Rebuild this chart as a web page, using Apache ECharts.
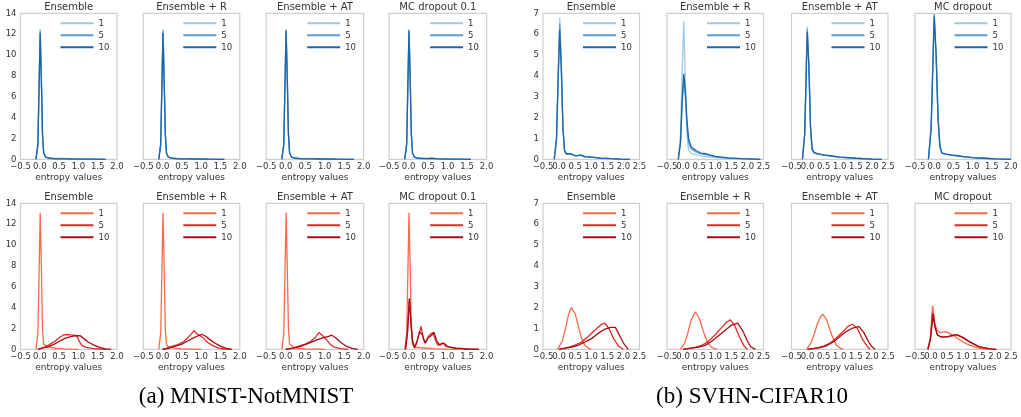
<!DOCTYPE html>
<html><head><meta charset="utf-8">
<script src="https://cdn.jsdelivr.net/npm/echarts@6/dist/echarts.min.js"></script>
<style>html,body{margin:0;padding:0;background:#fff}#c{width:1021px;height:417px}</style>
</head><body><div id="c"></div>
<script>
// ---------- labels ----------
const leftTitles = ['Ensemble', 'Ensemble + R', 'Ensemble + AT', 'MC dropout 0.1'];
const rightTitles = ['Ensemble', 'Ensemble + R', 'Ensemble + AT', 'MC dropout'];
const legendNames = ['1', '5', '10'];
const captions = ['(a) MNIST-NotMNIST', '(b) SVHN-CIFAR10'];
const xAxisName = 'entropy values';

// ---------- (a) MNIST in-distribution (blue) ----------
const mIn_E_1 = [[-0.1,0],[-0.05,1.5],[-0.02,7],[0.01,12.5],[0.04,8],[0.07,2.5],[0.1,0.6],[0.15,0.25],[0.25,0.12],[0.4,0.08],[0.6,0.1],[0.8,0.05],[1.1,0.03],[1.4,0.01],[1.75,0]];
const mIn_E_5 = [[-0.1,0],[-0.05,1.4],[-0.02,6.8],[0.01,12.3],[0.04,7.8],[0.07,2.4],[0.1,0.6],[0.15,0.22],[0.25,0.1],[0.4,0.06],[0.6,0.07],[0.8,0.04],[1.1,0.02],[1.4,0.01],[1.7,0]];
const mIn_E_10 = [[-0.1,0],[-0.05,1.4],[-0.02,6.6],[0.01,12.1],[0.04,7.6],[0.07,2.4],[0.1,0.6],[0.15,0.2],[0.25,0.1],[0.4,0.05],[0.6,0.05],[0.8,0.03],[1.1,0.02],[1.4,0.01],[1.7,0]];
const mIn_R_1 = [[-0.1,0],[-0.05,1.5],[-0.02,7],[0.01,12.45],[0.04,8],[0.07,2.5],[0.1,0.6],[0.15,0.22],[0.25,0.1],[0.4,0.07],[0.6,0.06],[0.9,0.04],[1.2,0.02],[1.6,0]];
const mIn_R_5 = [[-0.1,0],[-0.05,1.4],[-0.02,6.8],[0.01,12.35],[0.04,7.8],[0.07,2.4],[0.1,0.6],[0.15,0.2],[0.25,0.1],[0.4,0.06],[0.6,0.05],[0.9,0.03],[1.2,0.02],[1.6,0]];
const mIn_R_10 = [[-0.1,0],[-0.05,1.4],[-0.02,6.6],[0.01,12.1],[0.04,7.6],[0.07,2.4],[0.1,0.6],[0.15,0.2],[0.25,0.1],[0.4,0.05],[0.6,0.04],[0.9,0.03],[1.2,0.01],[1.6,0]];
const mIn_A_1 = [[-0.1,0],[-0.05,1.5],[-0.02,7],[0.01,12.5],[0.04,8],[0.07,2.5],[0.1,0.6],[0.15,0.22],[0.25,0.1],[0.4,0.07],[0.6,0.08],[0.9,0.04],[1.3,0.02],[1.75,0]];
const mIn_A_5 = [[-0.1,0],[-0.05,1.4],[-0.02,6.9],[0.01,12.4],[0.04,7.9],[0.07,2.4],[0.1,0.6],[0.15,0.2],[0.25,0.1],[0.4,0.06],[0.6,0.06],[0.9,0.03],[1.3,0.02],[1.75,0]];
const mIn_A_10 = [[-0.1,0],[-0.05,1.4],[-0.02,6.8],[0.01,12.3],[0.04,7.8],[0.07,2.4],[0.1,0.6],[0.15,0.2],[0.25,0.1],[0.4,0.05],[0.6,0.05],[0.9,0.03],[1.3,0.01],[1.75,0]];
const mIn_M_1 = [[-0.1,0],[-0.05,1.5],[-0.02,7],[0.01,12.5],[0.04,8],[0.07,2.5],[0.1,0.6],[0.15,0.22],[0.25,0.1],[0.45,0.08],[0.6,0.12],[0.75,0.06],[1.0,0.03],[1.3,0.02],[1.6,0]];
const mIn_M_5 = [[-0.1,0],[-0.05,1.4],[-0.02,6.9],[0.01,12.4],[0.04,7.9],[0.07,2.4],[0.1,0.6],[0.15,0.2],[0.25,0.1],[0.45,0.07],[0.6,0.1],[0.75,0.05],[1.0,0.03],[1.3,0.01],[1.6,0]];
const mIn_M_10 = [[-0.1,0],[-0.05,1.4],[-0.02,6.8],[0.01,12.3],[0.04,7.8],[0.07,2.4],[0.1,0.6],[0.15,0.2],[0.25,0.1],[0.45,0.06],[0.6,0.08],[0.75,0.05],[1.0,0.02],[1.3,0.01],[1.6,0]];

// ---------- (a) NotMNIST out-of-distribution (red) ----------
const mOut_E_1 = [[-0.1,0],[-0.05,1.5],[-0.02,7],[0.01,13.1],[0.04,8],[0.07,2],[0.1,0.5],[0.13,0.35],[0.18,0.3],[0.25,0.2],[0.4,0.1],[0.6,0.05],[0.8,0.02],[1.0,0]];
const mOut_E_5 = [[-0.05,0],[0.05,0.1],[0.15,0.25],[0.25,0.45],[0.4,0.8],[0.5,1.1],[0.6,1.35],[0.7,1.42],[0.8,1.38],[0.9,1.35],[0.97,1.2],[1.03,0.7],[1.1,0.35],[1.2,0.18],[1.35,0.08],[1.55,0.03],[1.75,0]];
const mOut_E_10 = [[-0.05,0],[0.05,0.12],[0.2,0.2],[0.35,0.45],[0.5,0.75],[0.65,1.05],[0.8,1.22],[0.9,1.3],[1.05,1.3],[1.15,1.0],[1.25,0.7],[1.4,0.4],[1.55,0.18],[1.7,0.05],[1.85,0]];
const mOut_R_1 = [[-0.1,0],[-0.05,1.5],[-0.02,7],[0.01,13.1],[0.04,8],[0.07,2],[0.1,0.5],[0.13,0.3],[0.2,0.2],[0.3,0.12],[0.5,0.05],[0.8,0.02],[1.0,0]];
const mOut_R_5 = [[0.0,0],[0.1,0.1],[0.25,0.3],[0.4,0.45],[0.55,0.75],[0.65,1.1],[0.75,1.5],[0.82,1.8],[0.88,1.5],[0.95,1.35],[1.05,1.1],[1.15,0.7],[1.3,0.35],[1.45,0.12],[1.6,0.03],[1.75,0]];
const mOut_R_10 = [[0.0,0],[0.15,0.1],[0.3,0.25],[0.5,0.5],[0.65,0.8],[0.8,1.1],[0.92,1.3],[1.02,1.42],[1.1,1.3],[1.2,1.0],[1.35,0.6],[1.5,0.3],[1.65,0.08],[1.8,0]];
const mOut_A_1 = [[-0.1,0],[-0.05,1.5],[-0.02,7],[0.01,13.1],[0.04,8],[0.07,2],[0.1,0.5],[0.13,0.35],[0.2,0.2],[0.3,0.1],[0.5,0.05],[0.8,0.02],[1.0,0]];
const mOut_A_5 = [[0.0,0],[0.15,0.1],[0.3,0.25],[0.5,0.5],[0.65,0.8],[0.75,1.1],[0.85,1.6],[0.95,1.3],[1.05,0.9],[1.15,0.45],[1.25,0.2],[1.4,0.07],[1.6,0]];
const mOut_A_10 = [[0.0,0],[0.2,0.12],[0.4,0.3],[0.6,0.6],[0.8,0.9],[0.95,1.1],[1.1,1.25],[1.18,1.35],[1.28,1.1],[1.4,0.7],[1.55,0.3],[1.7,0.08],[1.85,0]];
const mOut_M_1 = [[-0.1,0],[-0.05,1.5],[-0.02,7],[0.01,13.1],[0.04,8],[0.07,2],[0.1,0.5],[0.15,0.2],[0.3,0.15],[0.5,0.1],[0.7,0.05],[1.0,0.02],[1.3,0]];
const mOut_M_5 = [[-0.08,0],[-0.03,1.5],[0.02,4.8],[0.07,2.0],[0.1,0.8],[0.15,0.1],[0.2,0.5],[0.27,1.5],[0.32,2.2],[0.38,1.0],[0.43,0.6],[0.5,1.2],[0.55,1.4],[0.62,1.6],[0.68,1.0],[0.75,0.4],[0.8,0.5],[0.9,0.6],[0.95,0.3],[1.05,0.2],[1.2,0.1],[1.5,0.03],[1.8,0]];
const mOut_M_10 = [[-0.08,0],[-0.03,1.6],[0.02,4.9],[0.07,2.2],[0.1,0.8],[0.15,0.2],[0.22,0.8],[0.28,1.7],[0.35,1.4],[0.42,0.6],[0.5,1.1],[0.58,1.3],[0.65,1.65],[0.72,0.8],[0.8,0.4],[0.87,0.6],[0.93,0.5],[1.0,0.25],[1.2,0.12],[1.5,0.03],[1.8,0]];

// ---------- (b) SVHN in-distribution (blue) ----------
const sIn_E_1 = [[-0.15,0],[-0.08,1.0],[-0.03,4.0],[0.02,6.8],[0.07,4.5],[0.12,1.5],[0.17,0.4],[0.22,0.25],[0.3,0.25],[0.35,0.3],[0.42,0.22],[0.5,0.17],[0.6,0.18],[0.67,0.2],[0.8,0.12],[1.0,0.1],[1.3,0.06],[1.6,0.03],[1.9,0.01],[2.2,0]];
const sIn_E_5 = [[-0.15,0],[-0.08,1.0],[-0.03,3.9],[0.02,6.5],[0.07,4.4],[0.12,1.5],[0.17,0.4],[0.22,0.25],[0.3,0.26],[0.35,0.3],[0.42,0.22],[0.5,0.17],[0.6,0.18],[0.67,0.2],[0.8,0.12],[1.0,0.1],[1.3,0.06],[1.6,0.03],[1.9,0.01],[2.2,0]];
const sIn_E_10 = [[-0.15,0],[-0.08,1.0],[-0.03,3.8],[0.02,6.2],[0.07,4.3],[0.12,1.5],[0.17,0.42],[0.22,0.27],[0.3,0.27],[0.35,0.32],[0.42,0.23],[0.5,0.18],[0.6,0.19],[0.67,0.2],[0.8,0.13],[1.0,0.1],[1.3,0.06],[1.6,0.03],[1.9,0.01],[2.2,0]];
const sIn_R_1 = [[-0.15,0],[-0.08,1.2],[-0.03,4.2],[0.02,6.6],[0.07,3.8],[0.12,1.2],[0.17,0.45],[0.25,0.3],[0.4,0.22],[0.6,0.15],[0.8,0.12],[1.0,0.08],[1.4,0.04],[1.8,0.02],[2.4,0]];
const sIn_R_5 = [[-0.15,0],[-0.08,0.8],[-0.03,2.6],[0.02,3.9],[0.07,3.0],[0.12,1.6],[0.17,0.8],[0.25,0.5],[0.4,0.35],[0.6,0.25],[0.8,0.2],[1.0,0.12],[1.4,0.06],[1.8,0.03],[2.4,0]];
const sIn_R_10 = [[-0.15,0],[-0.08,0.8],[-0.03,2.8],[0.02,4.1],[0.07,3.3],[0.12,1.9],[0.17,1.0],[0.25,0.6],[0.4,0.42],[0.55,0.3],[0.7,0.27],[0.85,0.2],[1.0,0.14],[1.4,0.07],[1.8,0.03],[2.4,0]];
const sIn_A_1 = [[-0.16,0],[-0.09,1.2],[-0.04,4.5],[-0.01,6.35],[0.04,4.5],[0.09,1.5],[0.14,0.45],[0.2,0.3],[0.3,0.25],[0.5,0.2],[0.7,0.15],[1.0,0.1],[1.5,0.05],[2.0,0.01],[2.3,0]];
const sIn_A_5 = [[-0.16,0],[-0.09,1.2],[-0.04,4.4],[-0.01,6.25],[0.04,4.5],[0.09,1.6],[0.14,0.5],[0.2,0.32],[0.3,0.26],[0.5,0.2],[0.7,0.16],[1.0,0.1],[1.5,0.05],[2.0,0.01],[2.3,0]];
const sIn_A_10 = [[-0.16,0],[-0.09,1.2],[-0.04,4.3],[-0.01,6.1],[0.04,4.5],[0.09,1.6],[0.14,0.5],[0.2,0.33],[0.3,0.27],[0.5,0.21],[0.7,0.17],[1.0,0.1],[1.5,0.05],[2.0,0.01],[2.3,0]];
const sIn_M_1 = [[-0.15,0],[-0.08,1.5],[-0.03,5.0],[0.0,6.97],[0.05,5.0],[0.1,2.0],[0.15,0.6],[0.2,0.3],[0.3,0.25],[0.45,0.2],[0.6,0.17],[0.65,0.2],[0.75,0.13],[1.0,0.08],[1.3,0.05],[1.6,0.02],[2.0,0]];
const sIn_M_5 = [[-0.15,0],[-0.08,1.5],[-0.03,4.9],[0.0,6.95],[0.05,5.0],[0.1,2.0],[0.15,0.6],[0.2,0.3],[0.3,0.25],[0.45,0.2],[0.6,0.17],[0.65,0.2],[0.75,0.13],[1.0,0.08],[1.3,0.05],[1.6,0.02],[2.0,0]];
const sIn_M_10 = [[-0.15,0],[-0.08,1.5],[-0.03,4.8],[0.0,6.85],[0.05,5.0],[0.1,2.0],[0.15,0.6],[0.2,0.3],[0.3,0.25],[0.45,0.2],[0.6,0.17],[0.65,0.2],[0.75,0.13],[1.0,0.08],[1.3,0.05],[1.6,0.02],[2.0,0]];

// ---------- (b) CIFAR10 out-of-distribution (red) ----------
const sOut_E_1 = [[-0.05,0],[0.1,0.4],[0.2,1.0],[0.3,1.7],[0.38,2.0],[0.5,1.7],[0.6,1.1],[0.7,0.5],[0.8,0.2],[0.9,0.07],[1.0,0]];
const sOut_E_5 = [[0.0,0],[0.3,0.1],[0.5,0.2],[0.7,0.35],[0.9,0.6],[1.1,0.9],[1.3,1.18],[1.42,1.25],[1.55,1.0],[1.7,0.5],[1.85,0.15],[2.0,0]];
const sOut_E_10 = [[0.0,0],[0.4,0.1],[0.6,0.2],[0.8,0.35],[1.0,0.5],[1.2,0.75],[1.4,0.95],[1.6,1.05],[1.75,1.05],[1.9,0.6],[2.0,0.3],[2.15,0]];
const sOut_R_1 = [[-0.09,0],[0.05,0.3],[0.15,0.8],[0.25,1.4],[0.38,1.79],[0.5,1.5],[0.6,1.0],[0.7,0.55],[0.8,0.25],[0.9,0.08],[1.05,0]];
const sOut_R_5 = [[0.0,0],[0.4,0.1],[0.6,0.2],[0.8,0.4],[1.0,0.7],[1.2,1.05],[1.35,1.3],[1.47,1.41],[1.6,1.15],[1.75,0.6],[1.9,0.15],[2.0,0]];
const sOut_R_10 = [[0.0,0],[0.5,0.1],[0.7,0.2],[0.9,0.4],[1.1,0.65],[1.3,0.9],[1.5,1.15],[1.7,1.25],[1.85,0.9],[2.0,0.4],[2.1,0.12],[2.25,0]];
const sOut_A_1 = [[-0.03,0],[0.1,0.3],[0.2,0.7],[0.3,1.2],[0.4,1.55],[0.48,1.68],[0.6,1.4],[0.7,0.9],[0.8,0.5],[0.9,0.2],[1.0,0.07],[1.1,0]];
const sOut_A_5 = [[0.0,0],[0.3,0.07],[0.5,0.15],[0.7,0.3],[0.9,0.55],[1.1,0.85],[1.25,1.1],[1.4,1.2],[1.55,1.0],[1.7,0.5],[1.85,0.15],[1.94,0]];
const sOut_A_10 = [[0.0,0],[0.4,0.08],[0.6,0.18],[0.8,0.35],[1.0,0.6],[1.2,0.85],[1.4,1.02],[1.6,1.09],[1.75,0.8],[1.9,0.35],[2.0,0.12],[2.1,0]];
const sOut_M_1 = [[-0.1,0],[-0.02,0.5],[0.05,2.1],[0.12,1.2],[0.2,0.9],[0.3,0.8],[0.45,0.85],[0.6,0.75],[0.8,0.55],[1.0,0.35],[1.2,0.2],[1.5,0.05],[1.8,0]];
const sOut_M_5 = [[-0.1,0],[-0.02,0.5],[0.05,1.75],[0.12,1.1],[0.2,0.7],[0.3,0.6],[0.5,0.6],[0.65,0.65],[0.8,0.7],[1.0,0.55],[1.2,0.35],[1.5,0.12],[1.8,0.03],[2.0,0]];
const sOut_M_10 = [[-0.1,0],[-0.02,0.45],[0.07,1.7],[0.13,1.05],[0.2,0.68],[0.3,0.6],[0.5,0.6],[0.65,0.66],[0.8,0.7],[1.0,0.57],[1.2,0.37],[1.5,0.13],[1.8,0.03],[2.05,0]];

// ---------- assembly ----------
const panelData = [
  [[mIn_E_1,mIn_E_5,mIn_E_10],[mIn_R_1,mIn_R_5,mIn_R_10],[mIn_A_1,mIn_A_5,mIn_A_10],[mIn_M_1,mIn_M_5,mIn_M_10],
   [sIn_E_1,sIn_E_5,sIn_E_10],[sIn_R_1,sIn_R_5,sIn_R_10],[sIn_A_1,sIn_A_5,sIn_A_10],[sIn_M_1,sIn_M_5,sIn_M_10]],
  [[mOut_E_1,mOut_E_5,mOut_E_10],[mOut_R_1,mOut_R_5,mOut_R_10],[mOut_A_1,mOut_A_5,mOut_A_10],[mOut_M_1,mOut_M_5,mOut_M_10],
   [sOut_E_1,sOut_E_5,sOut_E_10],[sOut_R_1,sOut_R_5,sOut_R_10],[sOut_A_1,sOut_A_5,sOut_A_10],[sOut_M_1,sOut_M_5,sOut_M_10]]
];
const blues = ['#9ecae1', '#5a9fd4', '#1f64ab'];
const reds = ['#fb6a4a', '#de2d26', '#a50f15'];

const FONT = 'DejaVu Sans';
const TXT = '#333';
const TICK = 8.5;
const rowTop = [13.3, 203.3];
const boxH = 146;
const colLeft = [20.5, 143.3, 266.2, 389.1, 543, 667, 791.5, 915];
const boxW = [96.5, 96.5, 97.5, 97.5, 96.5, 96.5, 96.5, 96];

const fmtTick = v => (v < 0 ? '\u2212' : '') + Math.abs(v).toFixed(1);
const isWhole = v => Math.abs(Math.round(v * 2)) % 2 === 0;

const grid = [], xAxis = [], yAxis = [], series = [], legend = [], title = [];
let gi = 0;
for (let r = 0; r < 2; r++) {
  for (let c = 0; c < 8; c++) {
    const isRight = c >= 4;
    const left = colLeft[c], w = boxW[c], top = rowTop[r];
    grid.push({left: left, top: top, width: w, height: boxH, show: true,
      borderColor: '#cfcfcf', borderWidth: 1.2, backgroundColor: 'transparent', containLabel: false});
    const xmax = (!isRight || (r === 0 && c === 7)) ? 2.0 : 2.5;
    const baseX = {type: 'value', gridIndex: gi, min: -0.5, max: xmax, interval: 0.5, position: 'bottom',
      axisLine: {show: false}, axisTick: {show: false}, splitLine: {show: false}};
    // axis carrying the series; shows the half-value tick labels
    xAxis.push(Object.assign({}, baseX, {
      axisLabel: {fontSize: TICK, color: TXT, fontFamily: FONT, margin: 3, hideOverlap: false,
        showMinLabel: true, showMaxLabel: true,
        formatter: v => isWhole(v) ? '' : fmtTick(v)},
      name: xAxisName, nameLocation: 'middle', nameGap: 14,
      nameTextStyle: {fontSize: 9, color: TXT, fontFamily: FONT}}));
    // twin axis (same scale) showing the whole-value tick labels
    xAxis.push(Object.assign({}, baseX, {
      axisLabel: {fontSize: TICK, color: TXT, fontFamily: FONT, margin: 3, hideOverlap: false,
        showMinLabel: true, showMaxLabel: true,
        formatter: v => isWhole(v) ? fmtTick(v) : ''}}));
    const ymax = isRight ? 7 : 14, yint = isRight ? 1 : 2;
    yAxis.push({type: 'value', gridIndex: gi, min: 0, max: ymax, interval: yint,
      axisLine: {show: false}, axisTick: {show: false}, splitLine: {show: false},
      axisLabel: {show: (c === 0 || c === 4), fontSize: TICK, color: TXT, fontFamily: FONT, margin: 4}});
    const pal = r === 0 ? blues : reds;
    const pre = r === 0 ? 'b' : 'r';
    const sets = panelData[r][c];
    for (let k = 0; k < 3; k++) {
      series.push({type: 'line', name: pre + legendNames[k], xAxisIndex: 2 * gi, yAxisIndex: gi,
        data: sets[k], showSymbol: false, symbol: 'none', smooth: false, clip: true,
        color: pal[k], lineStyle: {width: 1.3, color: pal[k]}, z: 2 + k, animation: false});
    }
    legend.push({orient: 'vertical', left: left + w - 56.5, top: top + 4,
      itemWidth: 33, itemHeight: 2, icon: 'rect', itemGap: 0, selectedMode: false, padding: 0,
      data: legendNames.map(n => pre + n), formatter: n => n.slice(1),
      textStyle: {fontSize: TICK, color: TXT, fontFamily: FONT, lineHeight: 12}});
    title.push({text: (isRight ? rightTitles : leftTitles)[c % 4], left: left + w / 2,
      top: r === 0 ? 2.5 : 192.5, textAlign: 'center', padding: 0,
      textStyle: {fontSize: 10, fontWeight: 'normal', color: TXT, fontFamily: FONT}});
    gi++;
  }
}
title.push({text: captions[0], left: 246, top: 385, textAlign: 'center', padding: 0,
  textStyle: {fontSize: 23, fontWeight: 'normal', color: '#000', fontFamily: 'Liberation Serif'}});
title.push({text: captions[1], left: 752, top: 385, textAlign: 'center', padding: 0,
  textStyle: {fontSize: 23, fontWeight: 'normal', color: '#000', fontFamily: 'Liberation Serif'}});

const chart = echarts.init(document.getElementById('c'), null, {renderer: 'canvas'});
chart.setOption({animation: false, backgroundColor: '#fff', grid, xAxis, yAxis, series, legend, title});
</script></body></html>
